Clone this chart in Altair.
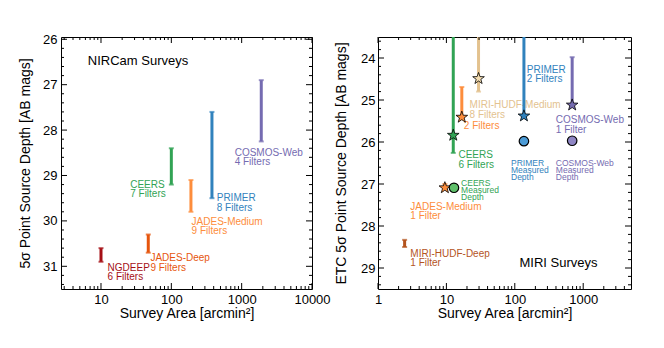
import altair as alt
import pandas as pd

FONT = "Liberation Sans"
WL, WR, H = 251, 253, 252
STAR = ("M0,-1 L0.235,-0.324 L0.951,-0.309 L0.380,0.124 L0.588,0.809 L0,0.4 "
        "L-0.588,0.809 L-0.380,0.124 L-0.951,-0.309 L-0.235,-0.324 Z")

# ---------------- NIRCam data ----------------
nir_names = ["NGDEEP", "JADES-Deep", "CEERS", "JADES-Medium", "PRIMER", "COSMOS-Web"]
nir_area = [10, 47, 100, 190, 378, 1900]
nir_bright = [30.6, 30.3, 28.4, 29.1, 27.6, 26.9]
nir_faint = [30.9, 30.7, 29.2, 29.8, 29.5, 28.25]
nir_colors = ["#a50f15", "#e6550d", "#31a354", "#fd8d3c", "#3182bd", "#756bb1"]
nir_label_text = ["NGDEEP\n6 Filters", "JADES-Deep\n9 Filters", "CEERS\n7 Filters",
                  "JADES-Medium\n9 Filters", "PRIMER\n8 Filters", "COSMOS-Web\n4 Filters"]
nir_label_x = [12.4, 50.4, 26, 194, 442, 795]
nir_label_y = [31.03, 30.825, 29.2, 30.015, 29.505, 28.5]

# ---------------- MIRI data ----------------
miri_names = ["CEERS", "MIRI-HUDF-Medium", "JADES-Medium", "PRIMER", "COSMOS-Web",
              "JADES-Medium 1", "MIRI-HUDF-Deep"]
miri_area = [12.6, 29.5, 16.8, 136, 690, 9.5, 2.45]
miri_bright = [23.5, 23.5, 24.69, 23.5, 23.98, 27.0, 28.33]
miri_faint = [26.26, 24.8, 25.41, 25.38, 25.12, 27.09, 28.5]
miri_colors = ["#31a354", "#e3c28f", "#fd8d3c", "#3182bd", "#756bb1", "#fd8d3c", "#b4541e"]
miri_top_cap = [False, False, True, False, True, True, True]

star_area = [12.6, 29.5, 16.8, 136, 690, 9.5]
star_depth = [25.84, 24.49, 25.41, 25.38, 25.12, 27.09]
star_colors = ["#31a354", "#f3dcb0", "#fd8d3c", "#3182bd", "#756bb1", "#fd8d3c"]

meas_area = [12.9, 136, 690]
meas_depth = [27.09, 25.98, 25.97]
meas_colors = ["#5fbf6a", "#4c9bd6", "#8f86c4"]

miri_label_text = ["CEERS\n6 Filters", "MIRI-HUDF-Medium\n8 Filters", "2 Filters",
                   "PRIMER\n2 Filters", "COSMOS-Web\n1 Filter", "JADES-Medium\n1 Filter",
                   "MIRI-HUDF-Deep\n1 Filter"]
miri_label_x = [15, 21.8, 18, 150, 398, 2.97, 2.97]
miri_label_y = [26.31, 25.13, 25.62, 24.285, 25.48, 27.545, 28.66]
miri_label_colors = ["#31a354", "#e3c28f", "#fd8d3c", "#3182bd", "#756bb1", "#fd8d3c", "#b4541e"]

meas_label_text = ["CEERS\nMeasured\nDepth", "PRIMER\nMeasured\nDepth", "COSMOS-Web\nMeasured\nDepth"]
meas_label_x = [16.4, 88, 398]
meas_label_y = [26.97, 26.5, 26.5]
meas_label_colors = ["#31a354", "#3182bd", "#756bb1"]

# ---------------- axis tick lists ----------------
left_x_major = [10, 100, 1000, 10000]
left_x_minor = [3, 4, 5, 6, 7, 8, 9, 20, 30, 40, 50, 60, 70, 80, 90,
                200, 300, 400, 500, 600, 700, 800, 900, 2000, 3000, 4000, 5000, 6000, 7000, 8000, 9000]
left_y_major = [26, 27, 28, 29, 30, 31]
left_y_minor = [26.2, 26.4, 26.6, 26.8, 27.2, 27.4, 27.6, 27.8, 28.2, 28.4, 28.6, 28.8,
                29.2, 29.4, 29.6, 29.8, 30.2, 30.4, 30.6, 30.8, 31.2, 31.4]
right_x_major = [1, 10, 100, 1000]
right_x_minor = [2, 3, 4, 5, 6, 7, 8, 9, 20, 30, 40, 50, 60, 70, 80, 90,
                 200, 300, 400, 500, 600, 700, 800, 900, 2000, 3000, 4000]
right_y_major = [24, 25, 26, 27, 28, 29]
right_y_minor = [23.6, 23.8, 24.2, 24.4, 24.6, 24.8, 25.2, 25.4, 25.6, 25.8, 26.2, 26.4, 26.6, 26.8,
                 27.2, 27.4, 27.6, 27.8, 28.2, 28.4, 28.6, 28.8, 29.2, 29.4]


def main_axis(vals, title, tpad, lpad=4):
    return alt.Axis(values=vals, format="d", ticks=False, domain=False, grid=False,
                    labelPadding=lpad, labelFont=FONT, labelFontSize=13, labelColor="black",
                    labelFlush=False, labelOverlap=False,
                    title=title, titleFont=FONT, titleFontSize=14, titleFontWeight="normal",
                    titleColor="black", titlePadding=tpad)


class Panel:
    def __init__(self, xscale, yscale, xaxis, yaxis, w, h):
        self.xs, self.ys, self.xa, self.ya, self.w, self.h = xscale, yscale, xaxis, yaxis, w, h

    def X(self, f):
        return alt.X(f, scale=self.xs, axis=self.xa)

    def Y(self, f):
        return alt.Y(f, scale=self.ys, axis=self.ya)

    def ticks(self, xvals, yvals, size):
        xdf = pd.DataFrame({"v": xvals})
        ydf = pd.DataFrame({"v": yvals})
        out = []
        for y0, y1 in ((self.h, self.h - size), (0, size)):
            out.append(alt.Chart(xdf).mark_rule(color="black", strokeWidth=1).encode(
                x=self.X("v:Q"), y=alt.value(y0), y2=alt.value(y1)))
        for x0, x1 in ((0, size), (self.w, self.w - size)):
            out.append(alt.Chart(ydf).mark_rule(color="black", strokeWidth=1).encode(
                y=self.Y("v:Q"), x=alt.value(x0), x2=alt.value(x1)))
        return out

    def bars(self, area, bright, faint, colors, top_cap=None):
        df = pd.DataFrame({"area": area, "bright": bright, "faint": faint, "col": colors})
        rule = alt.Chart(df).mark_rule(strokeWidth=3).encode(
            x=self.X("area:Q"), y=self.Y("bright:Q"), y2="faint:Q",
            color=alt.Color("col:N", scale=None))
        if top_cap is None:
            top_cap = [True] * len(area)
        ca = [a for a, t in zip(area, top_cap) if t] + area
        cd = [b for b, t in zip(bright, top_cap) if t] + faint
        cc = [c for c, t in zip(colors, top_cap) if t] + colors
        caps_df = pd.DataFrame({"area": ca, "depth": cd, "col": cc})
        caps = alt.Chart(caps_df).mark_tick(orient="horizontal", size=5, thickness=2).encode(
            x=self.X("area:Q"), y=self.Y("depth:Q"), color=alt.Color("col:N", scale=None))
        return [rule, caps]

    def texts(self, xs, ys, txt, colors, size=10, lh=9.5):
        df = pd.DataFrame({"x": xs, "y": ys, "t": txt, "col": colors})
        return alt.Chart(df).mark_text(align="left", baseline="middle", font=FONT, fontSize=size,
                                       lineBreak="\n", lineHeight=lh).encode(
            x=self.X("x:Q"), y=self.Y("y:Q"), text="t:N", color=alt.Color("col:N", scale=None))

    def title(self, x, y, t):
        df = pd.DataFrame({"x": [x], "y": [y], "t": [t]})
        return alt.Chart(df).mark_text(align="left", baseline="middle", font=FONT, fontSize=13,
                                       color="black").encode(
            x=self.X("x:Q"), y=self.Y("y:Q"), text="t:N")

    def points(self, area, depth, colors, shape, size, sw):
        df = pd.DataFrame({"area": area, "depth": depth, "col": colors})
        return alt.Chart(df).mark_point(shape=shape, filled=True, size=size, stroke="black",
                                        strokeWidth=sw, opacity=1).encode(
            x=self.X("area:Q"), y=self.Y("depth:Q"), fill=alt.Fill("col:N", scale=None))


# ---------------- left panel ----------------
L = Panel(alt.Scale(type="log", domain=[2.7, 10000], nice=False),
          alt.Scale(domain=[25.95, 31.5], reverse=True, nice=False, zero=False),
          main_axis(left_x_major, "Survey Area [arcmin²]", 0),
          main_axis(left_y_major, "5σ Point Source Depth [AB mags]", 10), WL, H)
left_layers = [L.texts(nir_label_x, nir_label_y, nir_label_text, nir_colors)]
left_layers += L.bars(nir_area, nir_bright, nir_faint, nir_colors)
left_layers.append(L.title(6.5, 26.48, "NIRCam Surveys"))
left_layers += L.ticks(left_x_major, left_y_major, 6)
left_layers += L.ticks(left_x_minor, left_y_minor, 3)
left = alt.layer(*left_layers).properties(width=WL, height=H)

# ---------------- right panel ----------------
R = Panel(alt.Scale(type="log", domain=[1, 5000], nice=False),
          alt.Scale(domain=[23.5, 29.5], reverse=True, nice=False, zero=False),
          main_axis(right_x_major, "Survey Area [arcmin²]", 0),
          main_axis(right_y_major, "ETC 5σ Point Source Depth [AB mags]", 12, 3), WR, H)
right_layers = [
    R.texts(miri_label_x, miri_label_y, miri_label_text, miri_label_colors),
    R.texts(meas_label_x, meas_label_y, meas_label_text, meas_label_colors, size=8.5, lh=7),
]
right_layers += R.bars(miri_area, miri_bright, miri_faint, miri_colors, miri_top_cap)
right_layers.append(R.points(star_area, star_depth, star_colors, STAR, 150, 0.8))
right_layers.append(R.points(meas_area, meas_depth, meas_colors, "circle", 90, 1.2))
right_layers.append(R.title(117, 28.89, "MIRI Surveys"))
right_layers += R.ticks(right_x_major, right_y_major, 6)
right_layers += R.ticks(right_x_minor, right_y_minor, 3)
right = alt.layer(*right_layers).properties(width=WR, height=H)

chart = alt.hconcat(left, right, spacing=66, bounds="flush").properties(
    padding={"left": 10, "top": 24, "right": 0, "bottom": 0}
).configure_view(stroke="black", strokeWidth=1)

chart.save("out.html", embed_options={"renderer": "svg", "actions": False})
